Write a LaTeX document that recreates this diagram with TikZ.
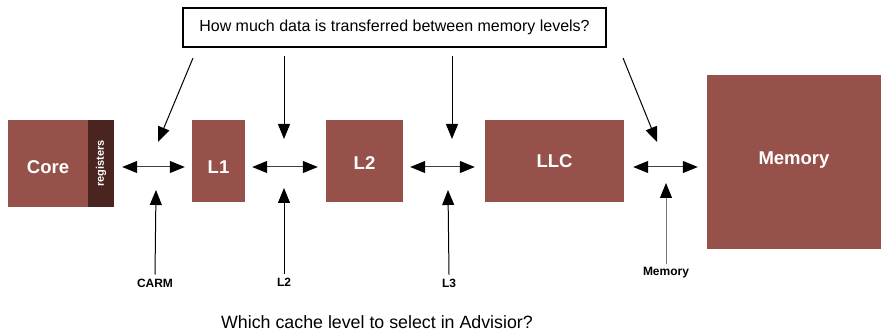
\documentclass[tikz,border=0pt]{standalone}
\usepackage{graphicx}
\usepackage{fontspec}
\setmainfont{Liberation Sans}
\usetikzlibrary{arrows.meta}
\definecolor{brick}{HTML}{96524A}
\definecolor{regbrown}{HTML}{4A241F}
\newcommand{\nudge}[2]{\raisebox{#1}[\height][\depth]{#2}}

\begin{document}
\begin{tikzpicture}[x=1pt, y=-1pt,
  qtip/.tip={Triangle[length=15pt, width=12pt, black]},
  blk/.style={fill=brick, text=white, inner sep=0pt,
              font=\fontsize{18.5}{20}\selectfont\bfseries},
  lab/.style={font=\fontsize{12}{14}\selectfont\bfseries, inner sep=1pt},
  q/.style={-qtip, line width=1pt},
  bus/.style={qtip-qtip, line width=1pt, draw=black!75}]
  \useasboundingbox (0,0) rectangle (883,331);
  % memory hierarchy
  \node[blk, minimum width=80pt, minimum height=87pt] (core) at (48,163.5) {\nudge{-4pt}{Core}};
  \node[blk, fill=regbrown, minimum width=26pt, minimum height=87pt,
        font=\fontsize{11}{12}\selectfont\bfseries] (reg) at (101,163.5)
     {\rotatebox{90}{registers}};
  \node[blk, minimum width=53pt, minimum height=82pt] (l1) at (218.5,161) {\nudge{-6pt}{L1}};
  \node[blk, minimum width=77pt, minimum height=82pt] (l2) at (364.5,161) {\nudge{-2pt}{L2}};
  \node[blk, minimum width=139pt, minimum height=82pt] (llc) at (554.5,161) {LLC};
  \node[blk, minimum width=174pt, minimum height=174pt] (mem) at (794,162) {\nudge{2pt}{Memory}};
  \coordinate (lane) at (0,167);
  \draw[bus] ([xshift=8pt]reg.east |- lane) -- ([xshift=-7pt]l1.west |- lane);
  \draw[bus] ([xshift=7pt]l1.east |- lane) -- ([xshift=-8pt]l2.west |- lane);
  \draw[bus] ([xshift=7pt]l2.east |- lane) -- ([xshift=-10pt]llc.west |- lane);
  \draw[bus] ([xshift=9pt]llc.east |- lane) -- ([xshift=-9pt]mem.west |- lane);
  % question on top
  \node[draw, line width=1.6pt, minimum width=423pt, minimum height=39pt,
        font=\fontsize{16}{18}\selectfont] (ask) at (394.5,27.5)
     {How much data is transferred between memory levels?};
  \coordinate (a1) at (193,58);  \coordinate (t1) at (158,142);
  \coordinate (a2) at (284,56);  \coordinate (t2) at (284,139);
  \coordinate (a3) at (452,56);  \coordinate (t3) at (452,139);
  \coordinate (a4) at (623,58);  \coordinate (t4) at (657,142);
  \foreach \i in {1,...,4} \draw[q] (a\i) -- (t\i);
  % advisor levels below
  \node[lab] (carm) at (155,283) {CARM};
  \node[lab] (sel2) at (284,282) {L2};
  \node[lab] (sel3) at (449,283) {L3};
  \node[lab] (selm) at (666,273) {Memory};
  \coordinate (b1) at (156,190);
  \coordinate (b2) at (284,188);
  \coordinate (b3) at (448,190);
  \coordinate (bm) at (666,183);
  \draw[q] ([yshift=3pt]carm.north) -- (b1);
  \draw[q] ([yshift=3pt]sel2.north) -- (b2);
  \draw[q] ([yshift=3pt]sel3.north) -- (b3);
  \draw[q, draw=black!55] ([yshift=2pt]selm.north) -- (bm);
  \node[font=\fontsize{17.8}{20}\selectfont] (which) at (377,322)
     {Which cache level to select in Advisior?};
\end{tikzpicture}
\end{document}
